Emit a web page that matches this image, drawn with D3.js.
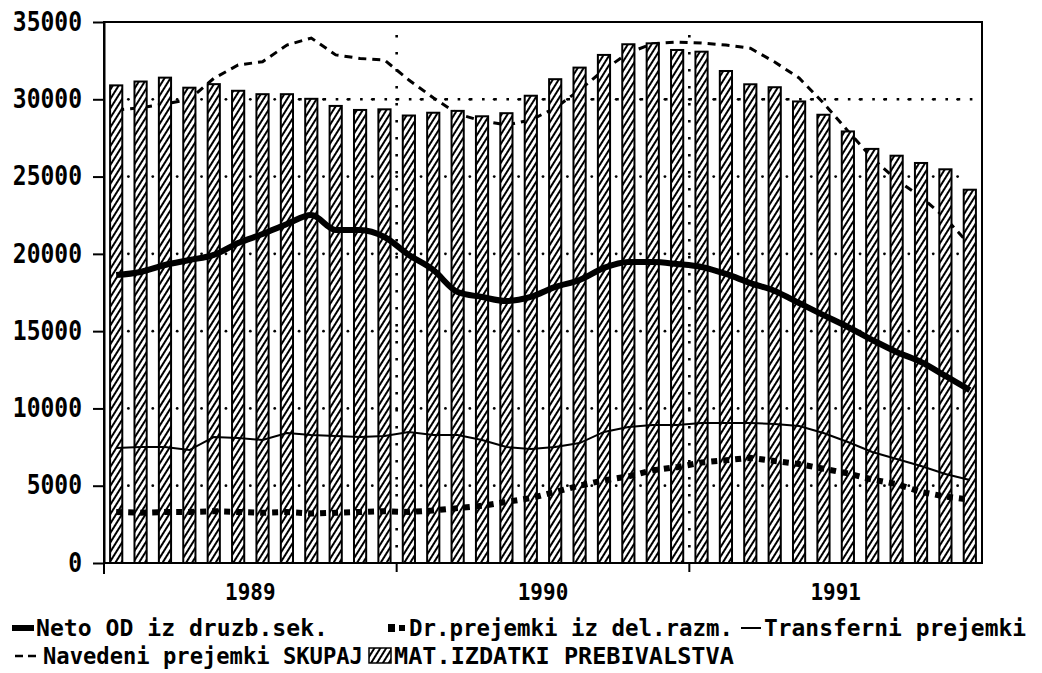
<!DOCTYPE html>
<html lang="sl">
<head>
<meta charset="UTF-8">
<title>Prejemki in izdatki prebivalstva 1989-1991</title>
<script src="https://d3js.org/d3.v7.min.js"></script>
<style>
    body { margin: 0; background: #fff; }
    svg text { font-family: "DejaVu Sans Mono", monospace; font-weight: bold; fill: #000; }
</style>
</head>
<body>
<script>
    // months 1989-1991
    const months = [
        "1989-01","1989-02","1989-03","1989-04","1989-05","1989-06","1989-07","1989-08","1989-09","1989-10","1989-11","1989-12",
        "1990-01","1990-02","1990-03","1990-04","1990-05","1990-06","1990-07","1990-08","1990-09","1990-10","1990-11","1990-12",
        "1991-01","1991-02","1991-03","1991-04","1991-05","1991-06","1991-07","1991-08","1991-09","1991-10","1991-11","1991-12"
    ];
    const years = ["1989", "1990", "1991"];
    const yTicks = [0, 5000, 10000, 15000, 20000, 25000, 30000, 35000];

    // MAT.IZDATKI PREBIVALSTVA (bars)
    const izdatki = [30900, 31150, 31400, 30750, 30980, 30550, 30330, 30330, 30030, 29570, 29310, 29350,
                     28950, 29130, 29250, 28900, 29100, 30230, 31300, 32050, 32870, 33560, 33620, 33190,
                     33080, 31830, 30970, 30780, 29860, 29000, 27920, 26790, 26350, 25880, 25470, 24150];
    // Neto OD iz druzb.sek.
    const neto = [18630, 18830, 19280, 19600, 19930, 20700, 21280, 21930, 22510, 21540, 21540, 21090,
                  19930, 18960, 17530, 17210, 16950, 17210, 17860, 18310, 19090, 19470, 19470, 19340,
                  19150, 18700, 18110, 17600, 16820, 16040, 15270, 14430, 13650, 13000, 12100, 11190];
    // Dr.prejemki iz del.razm.
    const drPrejemki = [3300, 3250, 3300, 3300, 3350, 3300, 3250, 3300, 3200, 3250, 3300, 3350,
                        3300, 3400, 3550, 3700, 3950, 4200, 4600, 5000, 5350, 5600, 6000, 6200,
                        6500, 6650, 6800, 6600, 6400, 6100, 5800, 5400, 5100, 4600, 4300, 4100];
    // Transferni prejemki
    const transferni = [7440, 7500, 7500, 7310, 8150, 8090, 7960, 8410, 8280, 8220, 8150, 8220,
                        8480, 8280, 8280, 7960, 7500, 7380, 7500, 7760, 8480, 8800, 8930, 8930,
                        9060, 9060, 9060, 8990, 8860, 8410, 7830, 7180, 6730, 6280, 5760, 5370];
    // Navedeni prejemki SKUPAJ
    const skupaj = [29300, 29450, 29700, 30000, 31350, 32220, 32430, 33510, 33960, 32870, 32640, 32540,
                    31250, 30100, 29050, 28600, 28340, 28660, 29440, 30600, 31900, 33000, 33600, 33700,
                    33640, 33510, 33300, 32410, 31380, 29760, 27950, 26200, 24780, 23680, 22320, 20570];

    const width = 1042, height = 673;
    const plotLeft = 104, plotRight = 982, plotTop = 22, plotBottom = 563;
    const tall = "scale(1,1.12)";   // the old pixel font is tall and narrow

    const svg = d3.select("body").append("svg")
        .attr("width", width)
        .attr("height", height);

    const defs = svg.append("defs");
    const hatch = defs.append("pattern")
        .attr("id", "hatch")
        .attr("patternUnits", "userSpaceOnUse")
        .attr("width", 5)
        .attr("height", 5)
        .attr("patternTransform", "rotate(32)");
    hatch.append("rect").attr("width", 5).attr("height", 5).attr("fill", "#fff");
    hatch.append("rect").attr("width", 2).attr("height", 5).attr("fill", "#000");

    const x = d3.scaleBand()
        .domain(months)
        .range([plotLeft, plotRight])
        .paddingInner(0.5)
        .paddingOuter(0.25);
    const step = x.step();
    const cx = i => x(months[i]) + x.bandwidth() / 2;
    const boundary = i => plotLeft + i * step;

    const yearScale = d3.scaleBand().domain(years).range([plotLeft, plotRight]);

    const y = d3.scaleLinear().domain([0, 35000]).range([plotBottom, plotTop]);

    // dotted grid
    const grid = svg.append("g");
    yTicks.filter(v => v > 0 && v < 35000).forEach(v => {
        for (let i = 1; i < months.length; i++) {
            grid.append("circle")
                .attr("cx", boundary(i))
                .attr("cy", y(v))
                .attr("r", 1.4)
                .attr("fill", "#000");
        }
    });
    grid.append("line")
        .attr("x1", boundary(8)).attr("x2", plotRight)
        .attr("y1", y(30000)).attr("y2", y(30000))
        .attr("stroke", "#000")
        .attr("stroke-width", 2.6)
        .attr("stroke-dasharray", `2.6,${step / 2 - 2.6}`);
    years.slice(1).forEach(yr => {
        grid.append("line")
            .attr("x1", yearScale(yr)).attr("x2", yearScale(yr))
            .attr("y1", 35).attr("y2", plotBottom)
            .attr("stroke", "#000")
            .attr("stroke-width", 2.6)
            .attr("stroke-dasharray", "2.6,14.4");
    });

    const line = d3.line()
        .x((d, i) => cx(i))
        .y(d => y(d));

    // total line sits behind the bars
    svg.append("path")
        .datum(skupaj)
        .attr("d", line)
        .attr("fill", "none")
        .attr("stroke", "#000")
        .attr("stroke-width", 3)
        .attr("stroke-dasharray", "8,6");

    svg.append("g")
        .selectAll("rect")
        .data(izdatki)
        .join("rect")
        .attr("x", (d, i) => x(months[i]))
        .attr("y", d => y(d))
        .attr("width", x.bandwidth())
        .attr("height", d => plotBottom - y(d))
        .attr("fill", "url(#hatch)")
        .attr("stroke", "#000")
        .attr("stroke-width", 2);

    svg.append("path")
        .datum(neto)
        .attr("d", line.curve(d3.curveMonotoneX))
        .attr("fill", "none")
        .attr("stroke", "#000")
        .attr("stroke-width", 6);
    line.curve(d3.curveLinear);

    svg.append("path")
        .datum(transferni)
        .attr("d", line)
        .attr("fill", "none")
        .attr("stroke", "#000")
        .attr("stroke-width", 2);

    svg.append("path")
        .datum(drPrejemki)
        .attr("d", line)
        .attr("fill", "none")
        .attr("stroke", "#000")
        .attr("stroke-width", 6)
        .attr("stroke-dasharray", "6,6");

    // frame
    svg.append("rect")
        .attr("x", plotLeft).attr("y", plotTop)
        .attr("width", plotRight - plotLeft).attr("height", plotBottom - plotTop)
        .attr("fill", "none")
        .attr("stroke", "#000")
        .attr("stroke-width", 2);

    const yAxis = svg.append("g")
        .attr("transform", `translate(${plotLeft},0)`)
        .call(d3.axisLeft(y).tickValues(yTicks).tickSize(11).tickSizeOuter(0).tickPadding(11).tickFormat(d3.format("d")));
    yAxis.select(".domain").attr("stroke-width", 2);
    yAxis.selectAll(".tick line").attr("stroke-width", 2);
    yAxis.selectAll("text")
        .attr("font-size", 23)
        .attr("font-family", null)
        .attr("transform", tall)
        .attr("y", 0)
        .attr("dy", "0.32em");

    // year ticks + labels
    const xAxis = svg.append("g")
        .attr("transform", `translate(0,${plotBottom})`)
        .call(d3.axisBottom(yearScale).tickSize(0).tickPadding(18));
    xAxis.select(".domain").remove();
    xAxis.selectAll("text")
        .attr("font-size", 21)
        .attr("font-family", null)
        .attr("transform", tall);
    years.forEach((yr, k) => {
        svg.append("line")
            .attr("x1", yearScale(yr)).attr("x2", yearScale(yr))
            .attr("y1", plotBottom).attr("y2", plotBottom + (k === 0 ? 11 : 9))
            .attr("stroke", "#000")
            .attr("stroke-width", 2);
    });

    // legend
    const lg = svg.append("g");
    const row1 = 636, row2 = 664;
    const legendText = (tx, ty, str, len) => lg.append("text")
        .attr("x", tx).attr("y", ty)
        .attr("font-size", (len / (str.length * 0.602)).toFixed(2))
        .text(str);

    lg.append("line").attr("x1", 12).attr("x2", 34).attr("y1", 628).attr("y2", 628)
        .attr("stroke", "#000").attr("stroke-width", 6);
    legendText(36, row1, "Neto OD iz druzb.sek.", 292);
    lg.append("rect").attr("x", 388).attr("y", 624).attr("width", 7).attr("height", 8).attr("fill", "#000");
    lg.append("rect").attr("x", 399).attr("y", 625).attr("width", 6).attr("height", 6).attr("fill", "#000");
    legendText(409, row1, "Dr.prejemki iz del.razm.", 324);
    lg.append("line").attr("x1", 741).attr("x2", 761).attr("y1", 628).attr("y2", 628)
        .attr("stroke", "#000").attr("stroke-width", 2);
    legendText(764, row1, "Transferni prejemki", 262);

    lg.append("line").attr("x1", 15).attr("x2", 38).attr("y1", 656).attr("y2", 656)
        .attr("stroke", "#000").attr("stroke-width", 2.5).attr("stroke-dasharray", "8,5");
    legendText(43, row2, "Navedeni prejemki SKUPAJ", 320);
    lg.append("rect").attr("x", 369).attr("y", 648).attr("width", 22).attr("height", 15)
        .attr("fill", "url(#hatch)").attr("stroke", "#000").attr("stroke-width", 1.5);
    legendText(394, row2, "MAT.IZDATKI PREBIVALSTVA", 340);
</script>
</body>
</html>
